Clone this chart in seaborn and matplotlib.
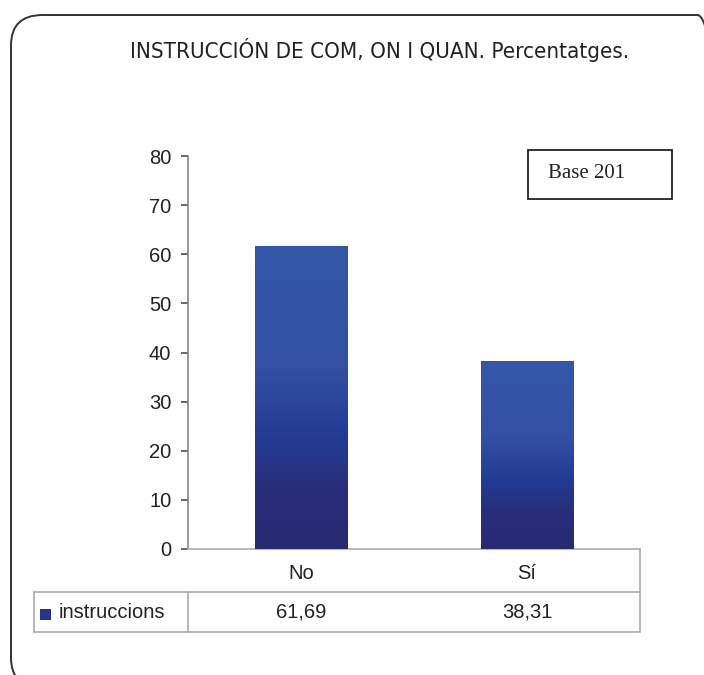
import numpy as np
import matplotlib
matplotlib.use("Agg")
import matplotlib.pyplot as plt
import seaborn as sns
from matplotlib.colors import LinearSegmentedColormap
from matplotlib.patches import FancyBboxPatch, Rectangle
from matplotlib.lines import Line2D

# data
categories = ["No", "Sí"]
values = [61.69, 38.31]
series_name = "instruccions"
value_labels = ["61,69", "38,31"]
title = "INSTRUCCIÓN DE COM, ON I QUAN. Percentatges."
note = "Base 201"

sns.set_theme(style="white")
plt.rcParams['font.family'] = ['Liberation Sans', 'DejaVu Sans']

W, H = 704, 675
fig = plt.figure(figsize=(W / 100, H / 100), dpi=100)


def fx(px):
    return px / W


def fy(py):
    return 1 - py / H


# plot area
left, right, top, bottom = 188, 640, 156, 549
ax = fig.add_axes([fx(left), fy(bottom), fx(right) - fx(left), fy(top) - fy(bottom)])

sns.barplot(x=categories, y=values, ax=ax, width=0.41, color="#283080", saturation=1)
ax.set_ylim(0, 80)
ax.set_xlim(-0.5, 1.5)
ax.set_yticks(range(0, 81, 10))
ax.set_xlabel("")
ax.set_ylabel("")

# gradient fill on bars
grad = LinearSegmentedColormap.from_list(
    "bar", [(0, "#282a72"), (0.18, "#292c78"), (0.38, "#233c96"),
            (0.6, "#3350a2"), (1, "#3457a7")], N=512)
img = np.linspace(0, 1, 512).reshape(-1, 1)
for p in ax.patches:
    x0, y0 = p.get_x(), p.get_y()
    w, h = p.get_width(), p.get_height()
    im = ax.imshow(img, cmap=grad, origin="lower", aspect="auto",
                   extent=[x0, x0 + w, y0, y0 + h], zorder=3, interpolation="bilinear")
    im.set_clip_path(p)
ax.set_xlim(-0.5, 1.5)
ax.set_ylim(0, 80)

for s in ["top", "right"]:
    ax.spines[s].set_visible(False)
ax.spines["left"].set_color("#8a8a8a")
ax.spines["bottom"].set_color("#b0b0b0")
ax.tick_params(axis="y", direction="out", length=5, color="#555555",
               labelsize=14.5, labelcolor="#222222", pad=7, left=True)
ax.tick_params(axis="x", length=0, labelsize=14.5, labelcolor="#222222", pad=11)

# data table
tbl_left, row1_bot, row2_bot = 34, 592, 632
lc = "#aaaaaa"
segs = [
    ((left, row1_bot), (left, row2_bot)),
    ((right, bottom), (right, row2_bot)),
    ((tbl_left, row1_bot), (right, row1_bot)),
    ((tbl_left, row2_bot), (right, row2_bot)),
    ((tbl_left, row1_bot), (tbl_left, row2_bot)),
]
for (xa, ya), (xb, yb) in segs:
    fig.add_artist(Line2D([fx(xa), fx(xb)], [fy(ya), fy(yb)], color=lc, lw=1.2))

for i, lab in enumerate(value_labels):
    xd = ax.transData.transform((i, 0))[0]
    fig.text(xd / W, fy((row1_bot + row2_bot) / 2), lab, ha="center", va="center",
             fontsize=14.5, color="#222222")

fig.add_artist(Rectangle((fx(40), fy(620)), fx(11), fy(609) - fy(620),
                         transform=fig.transFigure, facecolor="#26348c", edgecolor="none"))
fig.text(fx(59), fy((row1_bot + row2_bot) / 2), series_name, ha="left", va="center",
         fontsize=14.5, color="#222222")

# title
fig.text(fx(380), fy(50), title, ha="center", va="center", fontsize=16,
         family=['DejaVu Sans'], fontstretch="condensed", color="#222222")

# note box
fig.text(fx(587), fy(174), note, ha="center", va="center", fontsize=15,
         family=['Liberation Serif', 'DejaVu Serif'], color="#222222")
fig.add_artist(Rectangle((fx(528), fy(199)), fx(672) - fx(528), fy(150) - fy(199),
                         transform=fig.transFigure, facecolor="none",
                         edgecolor="#222222", lw=1.3))

# rounded frame
fig.add_artist(FancyBboxPatch((fx(11), fy(688)), fx(729) - fx(11), fy(15) - fy(688),
                              boxstyle="round,pad=0,rounding_size=0.045",
                              transform=fig.transFigure, facecolor="none",
                              edgecolor="#333333", lw=1.4))

fig.savefig("out.png", dpi=100)
